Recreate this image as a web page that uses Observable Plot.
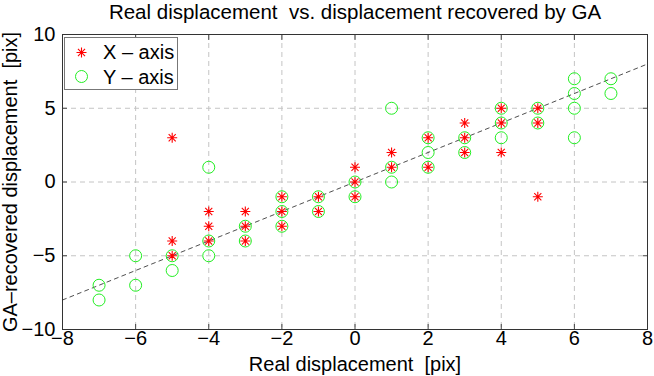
<!DOCTYPE html>
<html><head><meta charset="utf-8">
<script src="https://cdn.jsdelivr.net/npm/d3@7"></script>
<script src="https://cdn.jsdelivr.net/npm/@observablehq/plot@0.6"></script>
<style>
body{margin:0;background:#fff}
#chart{position:relative;width:654px;height:376px}
</style>
</head><body><div id="chart"></div>
<script>
// Red stars: "X – axis"
const starReal      = [-5,-5,-5, -4,-4,-4, -3,-3,-3, -2,-2,-2, -1,-1, 0,0,0, 1,1, 2,2, 3,3,3, 4,4,4, 5,5,5];
const starRecovered = [ 3,-4,-5, -2,-3,-4, -2,-3,-4, -1,-2,-3, -1,-2, 1,0,-1, 2,1, 3,1, 4,3,2, 5,4,2, 5,4,-1];
// Green circles: "Y – axis"
const circleReal      = [-7,-7, -6,-6, -5,-5, -4,-4,-4, -3,-3, -2,-2,-2, -1,-1, 0,0, 1,1,1, 2,2,2, 3,3, 4,4,4, 5,5, 6,6,6,6, 7,7];
const circleRecovered = [-7,-8, -5,-7, -5,-6,  1,-4,-5, -3,-4, -1,-2,-3, -1,-2, 0,-1, 5,1,0, 3,2,1, 3,2, 5,4,3, 5,4, 7,6,5,3, 7,6];
// Identity reference line
const diagonal = [-8, 8];
const xTicks = [-8,-6,-4,-2,0,2,4,6,8];
const yTicks = [-10,-5,0,5,10];
const titleText = "Real displacement  vs. displacement recovered by GA";
const xLabel = "Real displacement  [pix]";
const yLabel = "GA\u2013recovered displacement  [pix]";
const legendLabels = ["X \u2013 axis", "Y \u2013 axis"];

const stars = starReal.map((x, i) => ({x, y: starRecovered[i]}));
const circles = circleReal.map((x, i) => ({x, y: circleRecovered[i]}));
const diag = diagonal.map(v => ({x: v, y: v}));

const star8 = {
  draw(ctx, size) {
    const r = Math.sqrt(size / Math.PI);
    const d = r * Math.SQRT1_2;
    ctx.moveTo(-r, 0); ctx.lineTo(r, 0);
    ctx.moveTo(0, -r); ctx.lineTo(0, r);
    ctx.moveTo(-d, -d); ctx.lineTo(d, d);
    ctx.moveTo(-d, d); ctx.lineTo(d, -d);
  }
};

const RED = "#ff0000", GREEN = "#22ee22", STAR_R = 5;
const noText = () => "";
const FONT = "'Liberation Sans', Arial, sans-serif";

const plot = Plot.plot({
  width: 654, height: 376,
  marginLeft: 62, marginRight: 7, marginTop: 34, marginBottom: 47,
  style: {fontFamily: FONT, fontSize: "20px", background: "#fff", color: "#000"},
  x: {domain: [-8, 8]},
  y: {domain: [-10, 10]},
  marks: [
    Plot.gridX(xTicks, {stroke: "#c4c4c4", strokeOpacity: 1, strokeDasharray: "5,4"}),
    Plot.gridY(yTicks, {stroke: "#c4c4c4", strokeOpacity: 1, strokeDasharray: "5,4"}),
    Plot.axisX(xTicks, {anchor: "bottom", tickSize: 0, tickPadding: 1, label: null, fontSize: 20}),
    Plot.axisY(yTicks, {anchor: "left", tickSize: 0, tickPadding: 7, label: null, fontSize: 20}),
    Plot.axisX(xTicks, {anchor: "bottom", tickSize: 5, dy: -5, tickFormat: noText, label: null, stroke: "#444"}),
    Plot.axisX(xTicks, {anchor: "top", tickSize: 5, dy: 5, tickFormat: noText, label: null, stroke: "#444"}),
    Plot.axisY(yTicks, {anchor: "left", tickSize: 5, dx: 5, tickFormat: noText, label: null, stroke: "#444"}),
    Plot.axisY(yTicks, {anchor: "right", tickSize: 5, dx: -5, tickFormat: noText, label: null, stroke: "#444"}),
    Plot.frame({stroke: "#333", strokeWidth: 1}),
    Plot.line(diag, {x: "x", y: "y", stroke: "#222", strokeWidth: 0.8, strokeDasharray: "4,4"}),
    Plot.dot(stars, {x: "x", y: "y", symbol: star8, r: STAR_R, fill: "none", stroke: RED, strokeWidth: 1.1}),
    Plot.dot(circles, {x: "x", y: "y", symbol: "circle", r: 6, fill: "none", stroke: GREEN, strokeWidth: 1}),
    Plot.text([titleText], {text: d => d, frameAnchor: "top", dy: -22, lineAnchor: "middle", textAnchor: "middle", fontSize: 20.5}),
    Plot.text([xLabel], {text: d => d, frameAnchor: "bottom", dy: 35, lineAnchor: "middle", textAnchor: "middle", fontSize: 20}),
    Plot.text([yLabel], {text: d => d, frameAnchor: "left", dx: -52, rotate: -90, lineAnchor: "middle", textAnchor: "middle", fontSize: 20})
  ]
});
document.getElementById("chart").appendChild(plot);

// Legend box (MATLAB style, top-left inside axes)
const svg = d3.select(plot);
const lg = svg.append("g").attr("class", "legend");
lg.append("rect").attr("x", 64.5).attr("y", 37.5).attr("width", 113).attr("height", 52)
  .attr("fill", "#fff").attr("stroke", "#777").attr("stroke-width", 1);
const starPath = d3.path(); star8.draw(starPath, Math.PI * STAR_R * STAR_R);
lg.append("path").attr("d", starPath.toString()).attr("transform", "translate(81.5,52.5)")
  .attr("fill", "none").attr("stroke", RED).attr("stroke-width", 1.1);
lg.append("circle").attr("cx", 81.5).attr("cy", 76.5).attr("r", 6).attr("fill", "none").attr("stroke", GREEN);
legendLabels.forEach((t, i) => {
  lg.append("text").attr("x", 103).attr("y", 52 + i * 24.5).attr("dy", "0.35em")
    .attr("text-anchor", "start").attr("font-family", FONT)
    .attr("font-size", 20).attr("fill", "#000").text(t);
});
</script>
</body></html>
